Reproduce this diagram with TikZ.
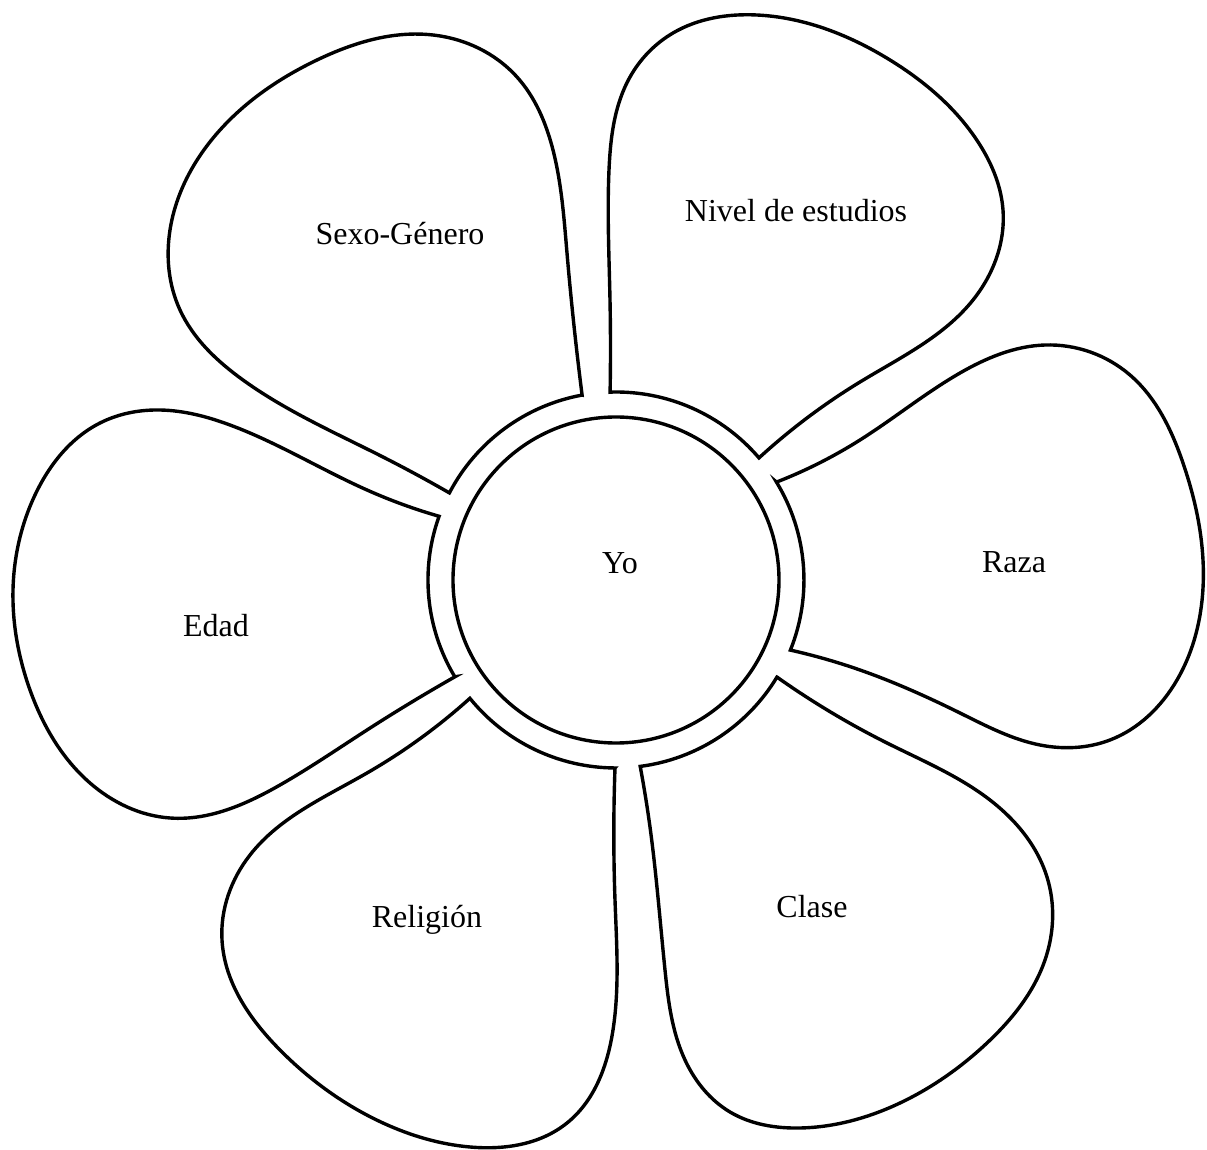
\documentclass[tikz,border=0pt]{standalone}
\usepackage{fontspec}
\setmainfont{Liberation Serif}
\usetikzlibrary{hobby}
\begin{document}
\begin{tikzpicture}[x=0.5pt,y=-0.5pt,
  petal/.style={draw=black, line width=1.7pt, line join=miter, fill=white, use Hobby shortcut},
  lbl/.style={anchor=base, inner sep=0pt, font=\fontsize{16}{19}\selectfont}]
\useasboundingbox (0,0) rectangle (1207,1150);
\coordinate (c) at (616,580);
% Sexo-Genero
\draw[petal] (582.1,395.1) .. (567,253) .. (553,150) .. (517,77) .. (433,35) .. (317,60) .. (220,130) .. (170,230) .. (180,310) .. (243,380) .. (383,457) .. (449.4,492.9)
  arc[start angle=-152.4, end angle=-100.4, radius=188] -- cycle;
% Nivel de estudios
\draw[petal] (610.1,392.1) .. (610,300) .. (609,170) .. (630,77) .. (673,33) .. (757,15) .. (890,60) .. (980,145) .. (1003,210) .. (973,300) .. (860,382) .. (759.0,457.9)
  arc[start angle=-40.5, end angle=-91.8, radius=188] -- cycle;
% Raza
\draw[petal] (776.5,482.1) .. (860,440) .. (960,373) .. (1045,345) .. (1130,375) .. (1183,463) .. (1203,560) .. (1177,680) .. (1110,740) .. (1040,745) .. (960,713) .. (860,670) .. (790.4,650.1)
  arc[start angle=21.9, end angle=-31.4, radius=188] -- cycle;
% Clase
\draw[petal] (777.0,677.1) .. (887,743) .. (990,800) .. (1047,877) .. (1045,960) .. (987,1043) .. (900,1103) .. (800,1128) .. (730,1112) .. (685,1060) .. (665,970) .. (650,827) .. (640.2,766.4)
  arc[start angle=82.6, end angle=31.1, radius=188] -- cycle;
% Religion
\draw[petal] (615.0,768.0) .. (615,900) .. (613,1030) .. (567,1123) .. (470,1147) .. (383,1123) .. (280,1050) .. (222,940) .. (250,855) .. (367,773) .. (469.9,698.3)
  arc[start angle=141, end angle=90.3, radius=188] -- cycle;
% Edad
\draw[petal] (454.9,676.8) .. (367,730) .. (280,785) .. (170,818) .. (90,783) .. (30,690) .. (13,590) .. (35,495) .. (100,423) .. (160,410) .. (230,425) .. (367,490) .. (439.1,516.3)
  arc[start angle=-160.2, end angle=-211, radius=188] -- cycle;
% centre
\draw[line width=1.7pt] (c) circle[radius=163];
\node[lbl] (yo) at (620,574) {Yo};
\node[lbl] (sexo) at (400,245) {Sexo-Género};
\node[lbl] (nivel) at (796,222) {Nivel de estudios};
\node[lbl] (raza) at (1014,573) {Raza};
\node[lbl] (clase) at (812,917) {Clase};
\node[lbl] (religion) at (427,927) {Religión};
\node[lbl] (edad) at (216,637) {Edad};
\end{tikzpicture}
\end{document}
